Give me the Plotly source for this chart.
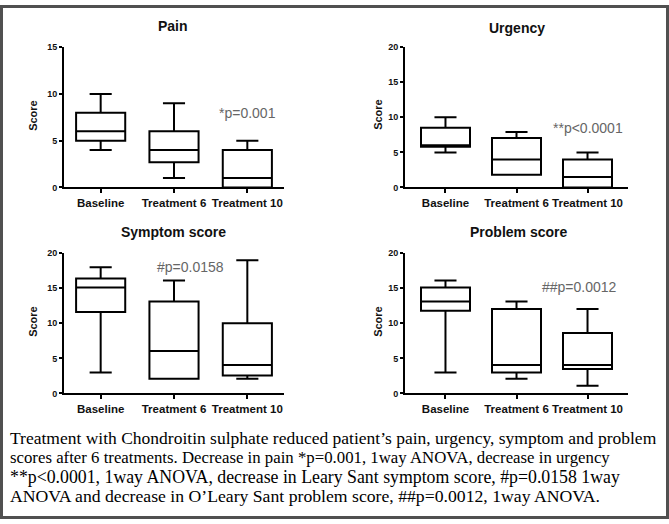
import plotly.graph_objects as go

W, H = 669, 524

categories = ["Baseline", "Treatment 6", "Treatment 10"]

# Box statistics: lower whisker, Q1, median, Q3, upper whisker
pain_low = [4, 1, 0]
pain_q1 = [5, 2.7, 0]
pain_med = [6, 4, 1]
pain_q3 = [8, 6, 4]
pain_high = [10, 9, 5]

urg_low = [5, 1.8, 0]
urg_q1 = [5.8, 1.8, 0]
urg_med = [6, 4, 1.5]
urg_q3 = [8.5, 7.05, 4]
urg_high = [10, 7.9, 5]

sym_low = [3, 2.1, 2.1]
sym_q1 = [11.6, 2.1, 2.55]
sym_med = [15.1, 6.05, 4.05]
sym_q3 = [16.4, 13.1, 10]
sym_high = [18, 16.1, 19]

prob_low = [3, 2.1, 1.1]
prob_q1 = [11.8, 3, 3.5]
prob_med = [13.1, 4.05, 4.05]
prob_q3 = [15.1, 12.05, 8.6]
prob_high = [16.1, 13.1, 12.05]

titles = ["Pain", "Urgency", "Symptom score", "Problem score"]
pvals = ["*p=0.001", "**p&lt;0.0001", "#p=0.0158", "##p=0.0012"]
y_max = [15, 20, 20, 20]

caption_lines = [
    "Treatment with Chondroitin sulphate reduced patient\u2019s pain, urgency, symptom and problem",
    "scores after 6 treatments. Decrease in pain *p=0.001, 1way ANOVA, decrease in urgency",
    "**p&lt;0.0001, 1way ANOVA, decrease in Leary Sant symptom score, #p=0.0158 1way",
    "ANOVA and decrease in O\u2019Leary Sant problem score, ##p=0.0012, 1way ANOVA.",
]

data_sets = [
    (pain_low, pain_q1, pain_med, pain_q3, pain_high),
    (urg_low, urg_q1, urg_med, urg_q3, urg_high),
    (sym_low, sym_q1, sym_med, sym_q3, sym_high),
    (prob_low, prob_q1, prob_med, prob_q3, prob_high),
]


def px(x):
    return x / W


def py(y):
    return 1 - y / H


# plot areas in pixels (left, right, top, bottom)
areas = [(64, 284, 43, 186), (405, 628, 43, 186), (64, 284, 253, 396), (405, 628, 253, 396)]
xranges = [[-0.5, 2.5], [-0.57, 2.57], [-0.5, 2.5], [-0.57, 2.57]]
box_widths = [0.67, 0.69, 0.67, 0.69]
title_pos = [(173, 21), (517, 23), (174, 231), (518, 231)]
score_pos = [(33, 113), (378, 112), (33, 323), (378, 323)]
pval_pos = [(2.0, 8.0), (2.0, 8.5), (1.23, 18.1), (1.89, 15.15)]

FONT = "Liberation Sans"
fig = go.Figure()
layout = dict(
    width=W, height=H,
    margin=dict(l=0, r=0, t=0, b=0),
    paper_bgcolor="white", plot_bgcolor="white",
    showlegend=False,
    annotations=[], shapes=[],
)

for i in range(4):
    k = i + 1
    sx = "" if k == 1 else str(k)
    low, q1, med, q3, high = data_sets[i]
    fig.add_trace(go.Box(
        x=categories, lowerfence=low, q1=q1, median=med, q3=q3, upperfence=high,
        xaxis="x" + sx, yaxis="y" + sx,
        boxpoints=False, width=box_widths[i], whiskerwidth=0.45,
        line=dict(color="black", width=2), fillcolor="white",
        hoverinfo="skip",
    ))
    l, r, t, b = areas[i]
    xd = [px(l), px(r)]
    yd = [py(b), py(t)]
    layout["xaxis" + sx] = dict(
        domain=xd, anchor="y" + sx, type="category", categoryarray=categories,
        range=xranges[i], showline=True, linecolor="black", linewidth=2,
        ticks="outside", ticklen=4, tickwidth=1.5, tickcolor="black",
        tickfont=dict(family=FONT, size=11.5, color="#111", weight="bold"),
        showgrid=False, zeroline=False, fixedrange=True,
    )
    layout["yaxis" + sx] = dict(
        domain=yd, anchor="x" + sx, range=[0, y_max[i]], dtick=5,
        showline=True, linecolor="black", linewidth=2,
        ticks="outside", ticklen=3, tickwidth=1.5, tickcolor="black",
        tickfont=dict(family=FONT, size=9, color="#111", weight="bold"),
        showgrid=False, zeroline=False, fixedrange=True,
    )
    # mirrored axes with inward ticks (top and right)
    ox = str(k + 4)
    layout["xaxis" + ox] = dict(
        overlaying="x" + sx, anchor="y" + sx, side="top", type="linear",
        range=xranges[i], tickvals=list(range(len(categories))),
        showticklabels=False, showline=True, linecolor="black", linewidth=2,
        ticks="inside", ticklen=3, tickwidth=1.5, tickcolor="black",
        showgrid=False, zeroline=False, fixedrange=True,
    )
    layout["yaxis" + ox] = dict(
        overlaying="y" + sx, anchor="x" + sx, side="right",
        range=[0, y_max[i]], dtick=5,
        showticklabels=False, showline=True, linecolor="black", linewidth=2,
        ticks="inside", ticklen=3, tickwidth=1.5, tickcolor="black",
        showgrid=False, zeroline=False, fixedrange=True,
    )
    tx, ty = title_pos[i]
    layout["annotations"].append(dict(
        text=titles[i], x=px(tx), y=py(ty), xref="paper", yref="paper",
        xanchor="center", yanchor="middle", showarrow=False,
        font=dict(family=FONT, size=14, color="#111", weight="bold"),
    ))
    sxp, syp = score_pos[i]
    layout["annotations"].append(dict(
        text="Score", x=px(sxp), y=py(syp), xref="paper", yref="paper",
        xanchor="center", yanchor="middle", showarrow=False, textangle=-90,
        font=dict(family=FONT, size=11, color="#111", weight="bold"),
    ))
    ax_, ay_ = pval_pos[i]
    layout["annotations"].append(dict(
        text=pvals[i], x=ax_, y=ay_, xref="x" + sx, yref="y" + sx,
        xanchor="center", yanchor="middle", showarrow=False,
        font=dict(family=FONT, size=14, color="#666666"),
    ))

caption_y = [441, 461, 481, 501]
caption_sizes = [17.5, 16.8, 17.8, 17.7]
for line, cy, fs in zip(caption_lines, caption_y, caption_sizes):
    layout["annotations"].append(dict(
        text=line, x=px(8), y=py(cy), xref="paper", yref="paper",
        xanchor="left", yanchor="middle", showarrow=False,
        font=dict(family="Liberation Serif", size=fs, color="black"),
    ))

layout["shapes"].append(dict(
    type="rect", xref="paper", yref="paper",
    x0=px(1.5), x1=px(W - 1.5), y0=py(H - 1.5), y1=py(1.5),
    line=dict(color="#505050", width=3), fillcolor="rgba(0,0,0,0)",
))

fig.update_layout(**layout)
fig.write_html(
    "out.html",
    config={"displayModeBar": False},
    post_script="document.body.style.margin='0';document.body.style.overflow='hidden';",
)
